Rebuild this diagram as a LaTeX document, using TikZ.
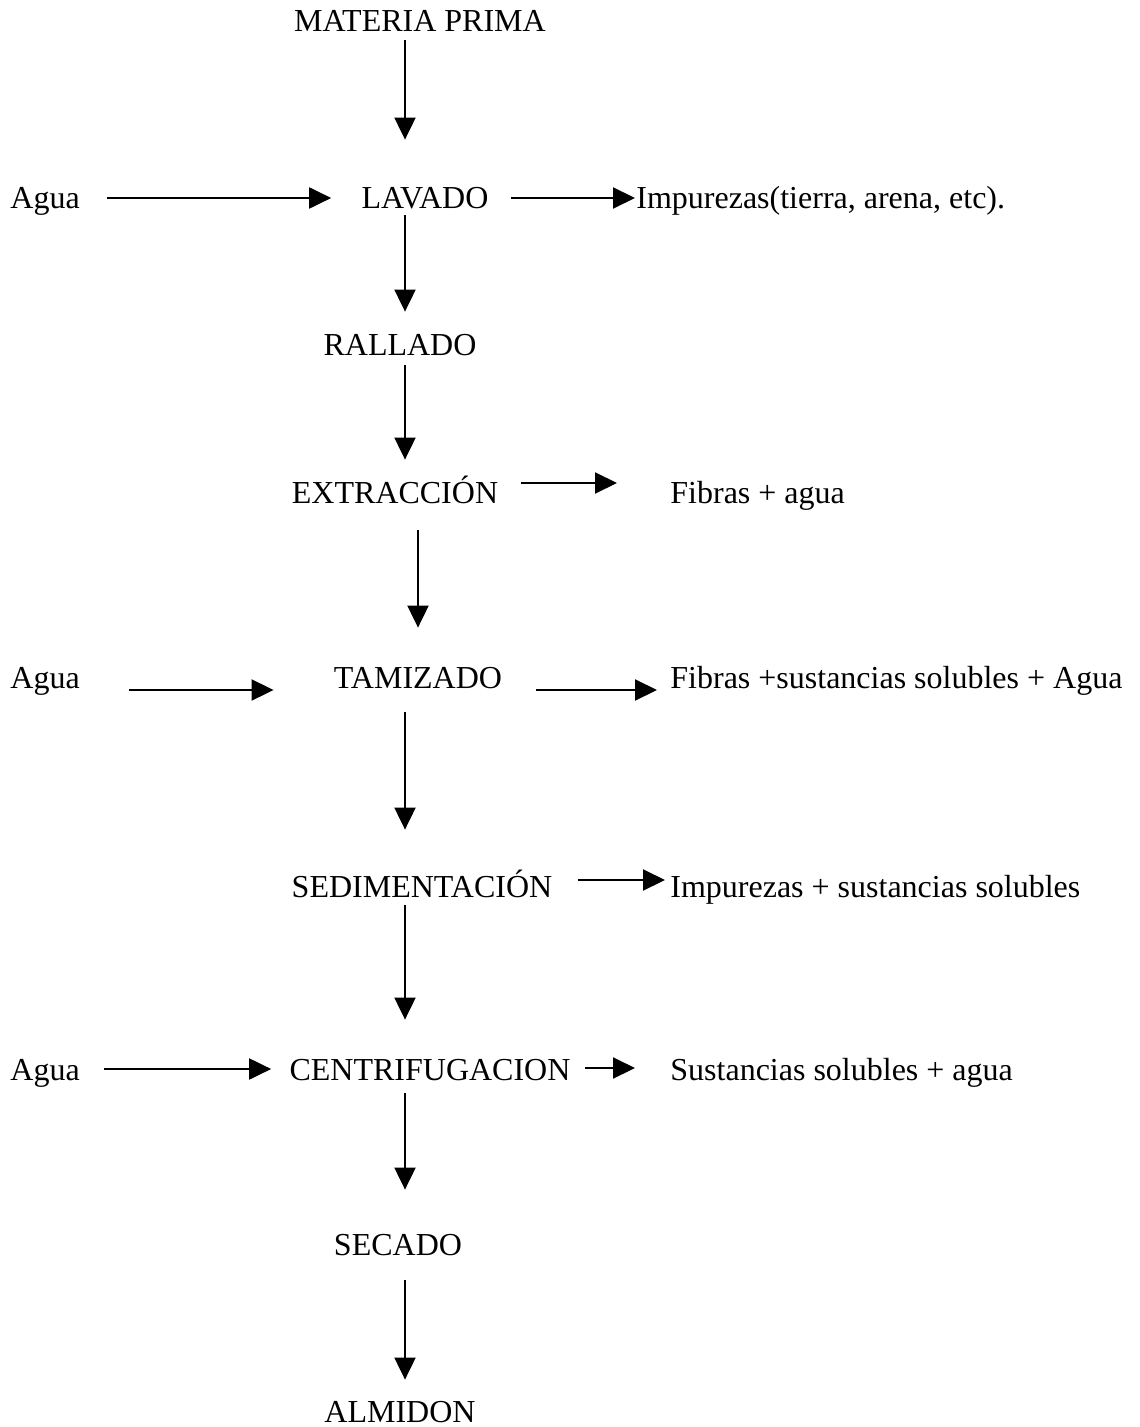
\documentclass[tikz,border=0pt]{standalone}
\usepackage{fontspec}
\setmainfont{Liberation Serif}
\usetikzlibrary{arrows.meta}

\begin{document}
\begin{tikzpicture}[x=0.5pt,y=-0.5pt,
  font=\fontsize{16}{19}\selectfont,
  etapa/.style={inner sep=0pt,text height=11pt,text depth=0pt,anchor=base},
  salida/.style={inner sep=0pt,text height=11pt,text depth=0pt,anchor=base west},
  flujo/.style={line width=1pt,-{Triangle[length=11pt,width=10.5pt]}}]
\useasboundingbox (0,0) rectangle (1139,1427);
\coordinate (eje) at (405,0);
\coordinate (eje2) at (418,0);
%etapas
\path (420,32) node(mp)[etapa]{MATERIA PRIMA};
\path (425,209) node(lav)[etapa]{LAVADO};
\path (400,356) node(ral)[etapa]{RALLADO};
\path (395,503) node(ext)[etapa]{EXTRACCIÓN};
\path (418,688) node(tam)[etapa]{TAMIZADO};
\path (422,897) node(sed)[etapa]{SEDIMENTACIÓN};
\path (430,1080) node(cen)[etapa]{CENTRIFUGACION};
\path (398,1255) node(sec)[etapa]{SECADO};
\path (400,1422) node(alm)[etapa]{ALMIDON};
%entradas y salidas
\path (10,209) node(agua1)[salida]{Agua};
\path (10,688) node(agua2)[salida]{Agua};
\path (10,1080) node(agua3)[salida]{Agua};
\path (636,209) node(imp1)[salida]{Impurezas(tierra, arena, etc).};
\path (670,503) node(fib1)[salida]{Fibras + agua};
\path (670,688) node(fib2)[salida]{Fibras +sustancias solubles + Agua};
\path (670,897) node(imp2)[salida]{Impurezas + sustancias solubles};
\path (670,1080) node(sus)[salida]{Sustancias solubles + agua};
%flechas verticales
\draw[flujo,shorten <=8pt/2,shorten >=47pt/2] (mp.south -| eje) -- (lav.north -| eje);
\draw[flujo,shorten <=6pt/2,shorten >=22pt/2] (lav.south -| eje) -- (ral.north -| eje);
\draw[flujo,shorten <=9pt/2,shorten >=21pt/2] (ral.south -| eje) -- (ext.north -| eje);
\draw[flujo,shorten <=27pt/2,shorten >=38pt/2] (ext.south -| eje2) -- (tam.north -| eje2);
\draw[flujo,shorten <=24pt/2,shorten >=45pt/2] (tam.south -| eje) -- (sed.north -| eje);
\draw[flujo,shorten <=8pt/2,shorten >=38pt/2] (sed.south -| eje) -- (cen.north -| eje);
\draw[flujo,shorten <=13pt/2,shorten >=43pt/2] (cen.south -| eje) -- (sec.north -| eje);
\draw[flujo,shorten <=25pt/2,shorten >=20pt/2] (sec.south -| eje) -- (alm.north -| eje);
%flechas horizontales
\draw[flujo,shorten <=27pt/2,shorten >=30pt/2] (agua1.east |- lav.west) -- (lav.west);
\draw[flujo,shorten <=22pt/2,shorten >=1pt/2] (lav.east) -- (lav.east -| imp1.west);
\draw[flujo,shorten <=22pt/2,shorten >=53pt/2] ([yshift=4.5pt]ext.east) -- ([yshift=4.5pt]ext.east -| fib1.west);
\draw[flujo,shorten <=49pt/2,shorten >=60pt/2] ([yshift=-6.5pt]agua2.east |- tam.west) -- ([yshift=-6.5pt]tam.west);
\draw[flujo,shorten <=34pt/2,shorten >=13pt/2] ([yshift=-6.5pt]tam.east) -- ([yshift=-6.5pt]tam.east -| fib2.west);
\draw[flujo,shorten <=25pt/2,shorten >=5pt/2] ([yshift=3pt]sed.east) -- ([yshift=3pt]sed.east -| imp2.west);
\draw[flujo,shorten <=24pt/2,shorten >=18pt/2] (agua3.east |- cen.west) -- (cen.west);
\draw[flujo,shorten <=14pt/2,shorten >=35pt/2] ([yshift=0.5pt]cen.east) -- ([yshift=0.5pt]cen.east -| sus.west);
\end{tikzpicture}
\end{document}
